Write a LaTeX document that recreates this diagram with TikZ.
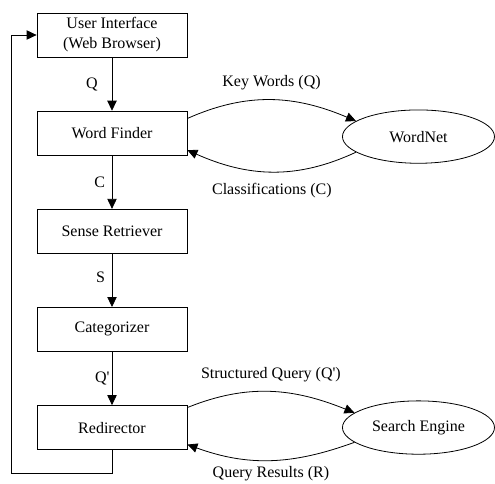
\documentclass[tikz,border=0pt]{standalone}
\usepackage{fontspec}
\setmainfont{Liberation Serif}[Ligatures=TeXOff]
\usepackage{tikz}
\usetikzlibrary{arrows.meta, positioning, shapes.geometric}

\begin{document}
\begin{tikzpicture}[
    x=0.75pt, y=-0.75pt,
    >={Triangle[length=7.5pt, width=7pt]},
    every node/.style={font=\fontsize{12}{15}\selectfont},
    box/.style={draw, line width=0.6pt, minimum width=112.5pt, minimum height=33pt, align=center, inner sep=0pt},
    src/.style={draw, ellipse, line width=0.6pt, minimum width=114pt, minimum height=40pt, inner sep=0pt},
    flow/.style={->, line width=0.6pt},
    lbl/.style={inner sep=0pt},
]
    \useasboundingbox (0,0) rectangle (495,483);
    % pipeline
    \node[box] (ui) at (112,35) {User Interface\\(Web Browser)};
    \node[box, below=40pt of ui] (wf) {Word Finder};
    \node[box, below=40pt of wf] (sr) {Sense Retriever};
    \node[box, below=40pt of sr] (cat) {Categorizer};
    \node[box, below=40pt of cat] (red) {Redirector};
    % outside sources
    \node[src, right=116pt of wf, yshift=-2.6pt] (wn) {WordNet};
    \node[src, right=116pt of red] (se) {Search Engine};

    \draw[flow] (ui) -- node[lbl, left=10.5pt] {Q} (wf);
    \draw[flow] (wf) -- node[lbl, left=5pt] {C} (sr);
    \draw[flow] (sr) -- node[lbl, left=5pt, yshift=2pt] {S} (cat);
    \draw[flow] (cat) -- node[lbl, left=1.5pt] {Q'} (red);

    \draw[flow] ([yshift=11pt]wf.east) to[out=24, in=157]
        node[lbl, above=7pt] {Key Words (Q)} (wn.166);
    \draw[flow] (wn.194) to[out=205, in=-24]
        node[lbl, below=8pt] {Classifications (C)} ([yshift=-12.75pt]wf.east);
    \draw[flow] ([yshift=15pt]red.east) to[out=22, in=158]
        node[lbl, above=7pt] {Structured Query (Q')} (se.167);
    \draw[flow] (se.193) to[out=200, in=-20]
        node[lbl, below=4pt] {Query Results (R)} ([yshift=-12.75pt]red.east);

    % back to the user
    \coordinate (back) at (11,473);
    \draw[flow] (red.south) |- (back) |- (ui.west);
\end{tikzpicture}
\end{document}
